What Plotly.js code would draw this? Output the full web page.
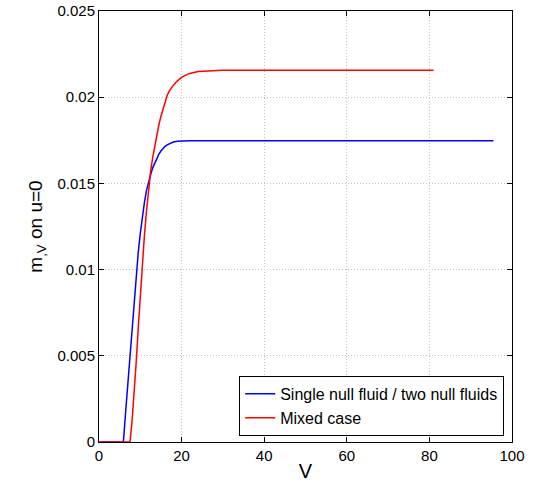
<!DOCTYPE html>
<html>
<head>
<meta charset="utf-8">
<script src="https://cdn.plot.ly/plotly-3.0.1.min.js"></script>
<style>html,body{margin:0;padding:0;background:#fff;}#chart{width:538px;height:487px;}</style>
</head>
<body>
<div id="chart"></div>
<script>
// Blue: single null fluid / two null fluids
const vBlue = [0, 5.9, 6.5, 7, 7.5, 8, 8.5, 9, 9.5, 10, 10.5, 11, 11.5, 12, 12.5, 13, 13.5, 14, 14.5, 15, 15.5, 16, 16.5, 17, 17.5, 18, 19, 20, 22, 25, 30, 40, 60, 80, 95.5];
const mBlue = [0, 0, 0.0019, 0.0035, 0.0051, 0.0067, 0.0082, 0.0097, 0.0110, 0.0121, 0.0131, 0.0139, 0.0146, 0.0151, 0.0155, 0.0159, 0.0162, 0.01648, 0.0167, 0.01688, 0.01703, 0.01715, 0.01724, 0.01731, 0.01736, 0.0174, 0.01744, 0.01746, 0.01748, 0.01748, 0.01748, 0.01748, 0.01748, 0.01748, 0.01748];
// Red: mixed case
const vRed = [0, 7.5, 8, 8.5, 9, 9.5, 10, 10.5, 11, 11.5, 12, 12.5, 13, 13.5, 14, 14.5, 15, 15.5, 16, 16.5, 17, 17.5, 18, 19, 20, 21, 22, 24, 27, 30, 40, 60, 81];
const mRed = [0, 0, 0.0012, 0.0028, 0.0046, 0.0066, 0.0086, 0.0104, 0.0120, 0.0134, 0.0147, 0.0157, 0.0165, 0.0172, 0.0178, 0.0184, 0.0189, 0.01935, 0.01975, 0.0201, 0.02035, 0.02055, 0.0207, 0.02095, 0.02115, 0.02128, 0.02138, 0.02149, 0.02155, 0.02157, 0.02157, 0.02157, 0.02157];

const seriesNames = ['Single null fluid / two null fluids', 'Mixed case'];
const xTicks = [0, 20, 40, 60, 80, 100];
const xTickText = ['0', '20', '40', '60', '80', '100'];
const yTicks = [0, 0.005, 0.01, 0.015, 0.02, 0.025];
const yTickText = ['0', '0.005', '0.01', '0.015', '0.02', '0.025'];

const font = 'Liberation Sans, Arial, Helvetica, sans-serif';

const traces = [
  {x: vBlue, y: mBlue, name: seriesNames[0], mode: 'lines', line: {color: '#0000ff', width: 1.5}},
  {x: vRed, y: mRed, name: seriesNames[1], mode: 'lines', line: {color: '#ff0000', width: 1.5}}
];

const axisCommon = {
  showline: true, linecolor: '#000', linewidth: 1, mirror: 'ticks',
  ticks: 'inside', ticklen: 5, tickcolor: '#000', tickwidth: 1,
  showgrid: true, gridcolor: '#c4c4c4', gridwidth: 1, griddash: '1px,2px',
  zeroline: false, tickfont: {family: font, size: 15, color: '#000'}
};

const layout = {
  width: 538, height: 487,
  margin: {l: 99, r: 26, t: 11, b: 45},
  paper_bgcolor: '#fff', plot_bgcolor: '#fff',
  font: {family: font, color: '#000'},
  showlegend: true,
  xaxis: Object.assign({}, axisCommon, {
    range: [0, 100], tickvals: xTicks, ticktext: xTickText,
    title: {text: 'V', font: {family: font, size: 20}, standoff: 0}
  }),
  yaxis: Object.assign({}, axisCommon, {
    range: [0, 0.025], tickvals: yTicks, ticktext: yTickText,
    title: {text: 'm<sub>,V</sub> on u=0', font: {family: font, size: 19}, standoff: 9}
  }),
  legend: {
    x: 0.981, y: 0.014, xanchor: 'right', yanchor: 'bottom',
    bgcolor: '#fff', bordercolor: '#000', borderwidth: 1,
    font: {family: font, size: 16, color: '#000'},
    itemwidth: 30, tracegroupgap: 0
  }
};

Plotly.newPlot('chart', traces, layout, {staticPlot: true, displayModeBar: false});
</script>
</body>
</html>
